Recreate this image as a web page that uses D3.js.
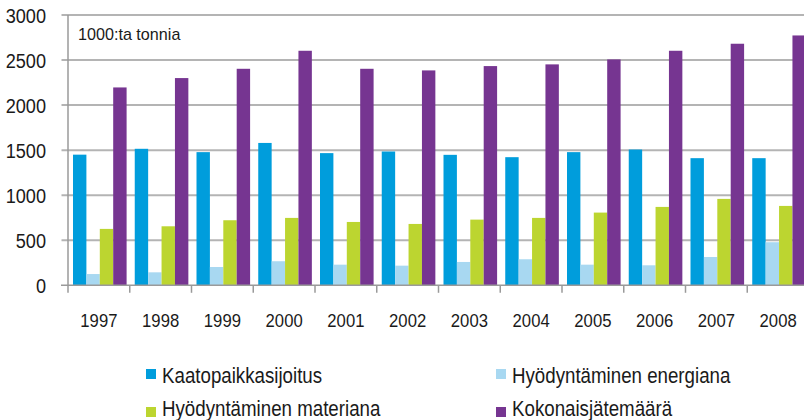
<!DOCTYPE html>
<html>
<head>
<meta charset="utf-8">
<script src="https://cdn.jsdelivr.net/npm/d3@7"></script>
<style>
  html, body { margin: 0; padding: 0; background: #fff; }
  svg { display: block; }
  text { font-family: "Liberation Sans", Arial, sans-serif; fill: #1a1a1a; }
</style>
</head>
<body>
<svg id="chart" width="804" height="420"></svg>
<script>
const years = ["1997","1998","1999","2000","2001","2002","2003","2004","2005","2006","2007","2008"];
const seriesNames = ["Kaatopaikkasijoitus","Hyödyntäminen energiana","Hyödyntäminen materiana","Kokonaisjätemäärä"];
const seriesColors = ["#009ddc","#a8d8f1","#bcd530","#763591"];
const kaatopaikka = [1450,1515,1478,1580,1467,1485,1448,1422,1478,1507,1411,1411];
const energiana   = [125,144,203,267,229,218,259,289,229,222,314,478];
const materiana   = [626,655,722,748,703,681,729,748,807,870,959,881];
const kokonais    = [2196,2300,2403,2603,2403,2385,2433,2452,2507,2603,2681,2773];
const yTicks = [0,500,1000,1500,2000,2500,3000];
const unitLabel = "1000:ta tonnia";

const seriesValues = [kaatopaikka, energiana, materiana, kokonais];

const svg = d3.select("#chart");
const W = 804, H = 420;
const mLeft = 68, mTop = 15, mBottom = 285.3;
const step = 61.75;

// squeeze text horizontally to imitate a condensed face
function condense(sel, k) {
  sel.each(function () {
    const w = this.getComputedTextLength();
    d3.select(this).attr("textLength", w * k).attr("lengthAdjust", "spacingAndGlyphs");
  });
}

const x = d3.scaleBand().domain(years).range([mLeft, mLeft + step * years.length]).paddingInner(0).paddingOuter(0);
const xs = d3.scaleBand().domain(d3.range(seriesNames.length)).range([5, 5 + 53.6]).padding(0);
const y = d3.scaleLinear().domain([0, 3000]).range([mBottom, mTop]);

// gridlines
svg.append("g").selectAll("line").data(yTicks.filter(d => d > 0)).join("line")
  .attr("x1", mLeft - 6.5).attr("x2", W)
  .attr("y1", d => y(d)).attr("y2", d => y(d))
  .attr("stroke", "#b4b4b4").attr("stroke-width", 2);

// bars
const groups = svg.append("g").selectAll("g").data(years).join("g")
  .attr("transform", d => `translate(${x(d)},0)`);
groups.selectAll("rect").data((yr, i) => seriesValues.map((s, k) => ({k, v: s[i]}))).join("rect")
  .attr("x", d => xs(d.k)).attr("width", xs.bandwidth())
  .attr("y", d => y(d.v)).attr("height", d => y(0) - y(d.v))
  .attr("fill", d => seriesColors[d.k]);

// y axis line
svg.append("line").attr("x1", mLeft).attr("x2", mLeft).attr("y1", mTop).attr("y2", mBottom)
  .attr("stroke", "#9a9a9a").attr("stroke-width", 1.5);
// x axis line
svg.append("line").attr("x1", mLeft - 7).attr("x2", W).attr("y1", mBottom).attr("y2", mBottom)
  .attr("stroke", "#9a9a9a").attr("stroke-width", 1.5);
// x tick marks at band boundaries
svg.append("g").selectAll("line").data(years).join("line")
  .attr("x1", d => x(d)).attr("x2", d => x(d))
  .attr("y1", mBottom).attr("y2", mBottom + 7.5)
  .attr("stroke", "#9a9a9a").attr("stroke-width", 1.5);

// y labels
const yAxis = d3.axisLeft(y).tickValues(yTicks).tickFormat(d3.format("d")).tickSize(0).tickPadding(0);
const ya = svg.append("g").attr("transform", `translate(46,0)`).call(yAxis);
ya.select(".domain").remove();
ya.selectAll("text").attr("font-size", 19.5).attr("font-family", "Liberation Sans, Arial, sans-serif")
  .attr("fill", "#1a1a1a").attr("dy", "0.36em").call(condense, 0.93);

// x labels
const xa = svg.append("g").attr("transform", `translate(0,${mBottom})`).call(d3.axisBottom(x).tickSize(0).tickPadding(0));
xa.select(".domain").remove();
xa.selectAll("text").attr("font-size", 18.5).attr("font-family", "Liberation Sans, Arial, sans-serif").attr("fill", "#1a1a1a")
  .attr("dy", 0).attr("y", 42).call(condense, 0.9);

// unit label
svg.append("text").attr("x", 78).attr("y", 40).attr("font-size", 17).text(unitLabel).call(condense, 0.95);

// legend
const legendPos = [[146, 369, 14], [496, 369, 14], [146, 407, 8.5], [496, 407, 8.5]];
const lg = svg.append("g").selectAll("g").data(seriesNames).join("g")
  .attr("transform", (d, i) => `translate(${legendPos[i][0]},${legendPos[i][1]})`);
lg.append("rect").attr("width", 10).attr("height", 10).attr("fill", (d, i) => seriesColors[i]);
lg.append("text").attr("x", 16).attr("y", (d, i) => legendPos[i][2]).attr("font-size", 21.5).text(d => d)
  .call(condense, 0.87);
</script>
</body>
</html>
